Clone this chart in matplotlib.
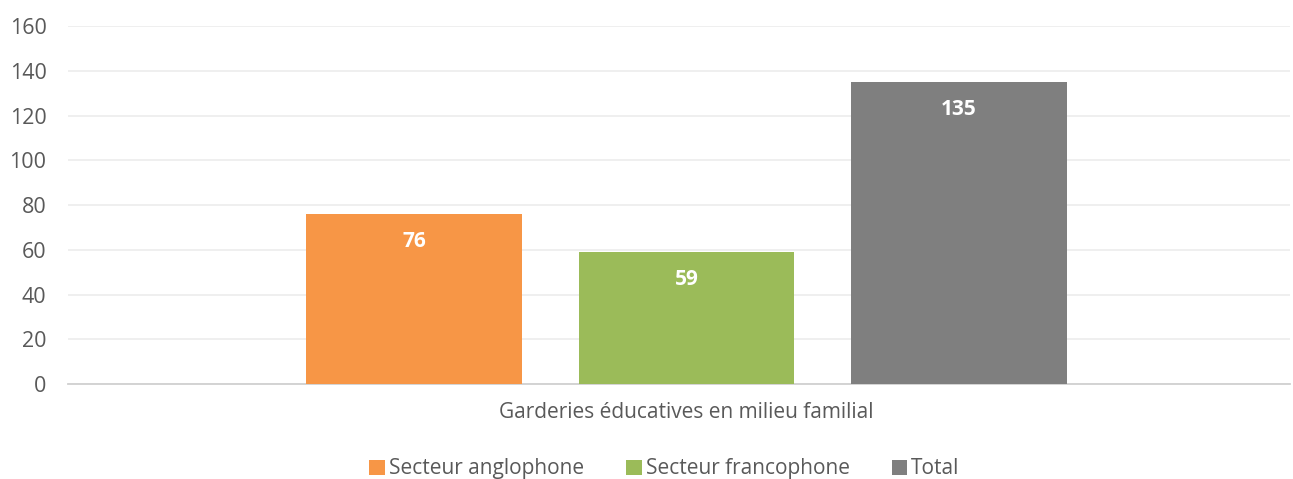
import matplotlib.pyplot as plt
import numpy as np

plt.rcParams['font.family'] = ['Open Sans', 'DejaVu Sans']

category = 'Garderies éducatives en milieu familial'
series = ['Secteur anglophone', 'Secteur francophone', 'Total']
values = [76, 59, 135]
colors = ['#F79646', '#9BBB59', '#7F7F7F']
yticks = [0, 20, 40, 60, 80, 100, 120, 140, 160]

fig = plt.figure(figsize=(12.93, 4.79), dpi=100)
ax = fig.add_axes([0.0526, 0.1983, 0.9451, 0.7474])

pos = np.arange(len(values)) - 1
width = 0.79
bars = ax.bar(pos, values, width, color=colors, label=series, zorder=3)
for b, v in zip(bars, values):
    ax.annotate(str(v), (b.get_x() + b.get_width() / 2, v), xytext=(0, -20),
                textcoords='offset points', ha='center', va='center',
                color='white', fontsize=15, fontweight='bold', zorder=4)

ax.set_xlim(-2.27, 2.215)
ax.set_ylim(0, 160)
ax.set_yticks(yticks)
ax.yaxis.grid(True, color='#EEEEEE', linewidth=1.3, zorder=0)
ax.tick_params(axis='y', length=0, labelsize=15.5, labelcolor='#595959', pad=15.5)
ax.set_xticks([0])
ax.set_xticklabels([category])
ax.tick_params(axis='x', length=0, labelsize=15, labelcolor='#595959', pad=13)
for s in ['top', 'right', 'left']:
    ax.spines[s].set_visible(False)
ax.spines['bottom'].set_color('#D0D0D0')
ax.spines['bottom'].set_linewidth(1.3)

fig.legend(loc='lower center', bbox_to_anchor=(0.514, -0.04), ncol=3, frameon=False,
           fontsize=15, labelcolor='#595959', handlelength=0.75, handleheight=0.75,
           handletextpad=0.2, columnspacing=2.0)

fig.savefig('out.png')
